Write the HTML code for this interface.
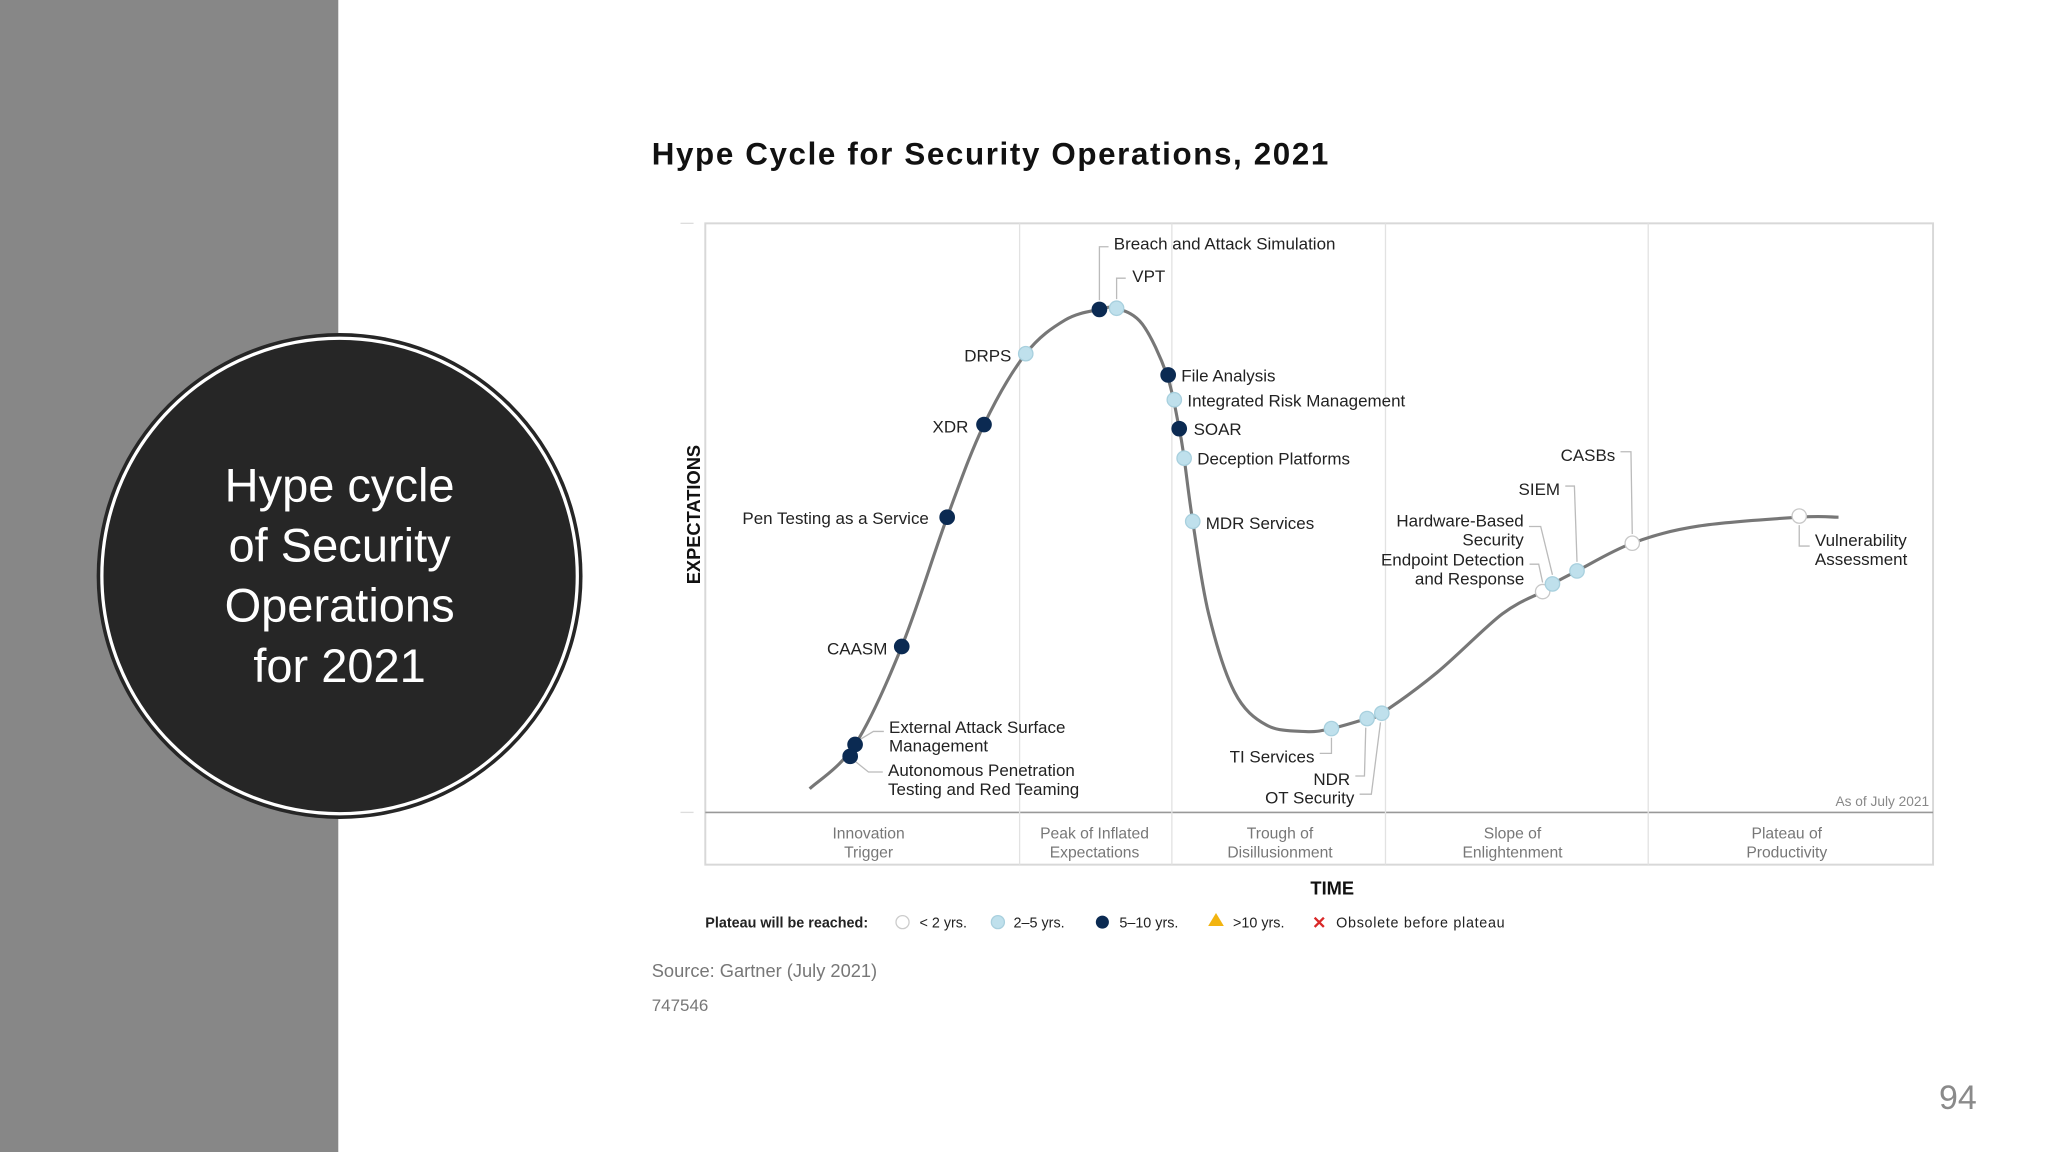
<!DOCTYPE html>
<html><head><meta charset="utf-8">
<style>
html,body{margin:0;padding:0;background:#fff;}
svg{display:block;font-family:"Liberation Sans",sans-serif;}
</style></head>
<body>
<svg id="s" width="2048" height="1152" viewBox="0 0 1568 882" preserveAspectRatio="none" xmlns="http://www.w3.org/2000/svg">
  <rect x="0" y="0" width="1568" height="882" fill="#fff"/>
  <rect x="0" y="0" width="259" height="882" fill="#878787"/>
  <g>
    <circle cx="260" cy="441" r="186" fill="#262626"/>
    <circle cx="260" cy="441" r="182" fill="none" stroke="#fff" stroke-width="2.5"/>
    <circle cx="260" cy="441" r="179.5" fill="#262626"/>
    <g fill="#fff" font-size="36" text-anchor="middle" font-family="'Liberation Sans',sans-serif">
      <text x="260" y="384">Hype cycle</text>
      <text x="260" y="430">of Security</text>
      <text x="260" y="476">Operations</text>
      <text x="260" y="522">for 2021</text>
    </g>
  </g>
  <text x="1499" y="849" font-size="26" fill="#8a8a8a" text-anchor="middle">94</text>

  <text x="499" y="126" font-size="24" font-weight="bold" fill="#111" textLength="518" lengthAdjust="spacing">Hype Cycle for Security Operations, 2021</text>

  <g id="chart">
    <rect x="540" y="171" width="940" height="491" fill="none" stroke="#d8d8d8" stroke-width="1.5"/>
    <line x1="540" y1="622" x2="1480" y2="622" stroke="#999" stroke-width="1.2"/>
    <line x1="521" y1="171" x2="531" y2="171" stroke="#ddd"/>
    <line x1="521" y1="622" x2="531" y2="622" stroke="#ddd"/>
    <text transform="translate(536,394) rotate(-90)" font-size="14" font-weight="bold" fill="#111" text-anchor="middle">EXPECTATIONS</text>
    <text x="1020" y="685" font-size="14" font-weight="bold" fill="#111" text-anchor="middle">TIME</text>
    <text x="1477" y="617" font-size="10.5" fill="#888" text-anchor="end">As of July 2021</text>
    <g id="phases"></g>
    <g id="curve"></g>
    <g id="leaders"></g>
    <g id="points"></g>
    <g id="labels"></g>
  </g>

  <g font-size="11" fill="#222">
    <text x="540" y="710" font-weight="bold">Plateau will be reached:</text>
    <circle cx="691" cy="706" r="5" fill="#fff" stroke="#ccc"/>
    <text x="704" y="710">&lt; 2 yrs.</text>
    <circle cx="764" cy="706" r="5" fill="#bfe0ec" stroke="#a9d0de"/>
    <text x="776" y="710">2–5 yrs.</text>
    <circle cx="844" cy="706" r="5" fill="#0b2a52"/>
    <text x="857" y="710">5–10 yrs.</text>
    <polygon points="931,699 937,709 925,709" fill="#f2b410"/>
    <text x="944" y="710">&gt;10 yrs.</text>
    <text x="1010" y="711" font-size="13" font-weight="bold" fill="#d92828" text-anchor="middle">✕</text>
    <text x="1023" y="710" textLength="129" lengthAdjust="spacing">Obsolete before plateau</text>
  </g>
  <text x="499" y="748" font-size="14" fill="#777">Source: Gartner (July 2021)</text>
  <text x="499" y="774" font-size="13" fill="#777">747546</text>
</svg>
<script>
// curve data: time (0-100) and expectations (0-100)
const curveT = [8.5,12.2,16.0,19.7,22.7,26.1,29.3,32.1,33.5,35.6,37.6,38.6,39.0,39.7,41.0,43.1,45.7,48.9,51.0,53.9,55.1,59.6,64.9,68.2,69.0,71.0,75.5,80.9,89.1,92.3];
const curveV = [4.0,11.5,28.1,50.0,65.7,77.7,83.4,85.2,85.4,82.7,74.1,65.0,60.0,49.3,33.6,20.4,14.8,13.7,14.2,15.9,16.8,23.7,33.6,37.4,38.7,40.9,45.6,48.5,50.0,50.0];
// technologies
const techNames = ["Breach and Attack Simulation","VPT","DRPS","XDR","Pen Testing as a Service","CAASM","External Attack Surface|Management","Autonomous Penetration|Testing and Red Teaming","File Analysis","Integrated Risk Management","SOAR","Deception Platforms","MDR Services","TI Services","NDR","OT Security","Endpoint Detection|and Response","Hardware-Based|Security","SIEM","CASBs","Vulnerability|Assessment"];
const techT = [32.1,33.5,26.1,22.7,19.7,16.0,12.2,11.8,37.7,38.2,38.6,39.0,39.7,51.0,53.9,55.1,68.2,69.0,71.0,75.5,89.1];
const techV = [85.2,85.4,77.7,65.7,50.0,28.1,11.5,9.5,74.1,69.9,65.0,60.0,49.3,14.2,15.9,16.8,37.4,38.7,40.9,45.6,50.2];
const techPlateau = ["5-10","2-5","2-5","5-10","5-10","5-10","5-10","5-10","5-10","2-5","5-10","2-5","2-5","2-5","2-5","2-5","lt2","2-5","2-5","lt2","lt2"];
const phaseNames = ["Innovation|Trigger","Peak of Inflated|Expectations","Trough of|Disillusionment","Slope of|Enlightenment","Plateau of|Productivity"];
const phaseBounds = [0,25.6,38.0,55.4,76.8,100];

const NS="http://www.w3.org/2000/svg";
const X0=540,X1=1480,YB=622,YT=170;
const xs=t=>X0+t*(X1-X0)/100;
const ys=v=>YB-v*(YB-YT)/100;
function mk(tag,attrs,parent){const e=document.createElementNS(NS,tag);for(const k in attrs)e.setAttribute(k,attrs[k]);parent.appendChild(e);return e;}

// phases
const gp=document.getElementById('phases');
for(let i=0;i<phaseNames.length;i++){
  if(i>0){const l=mk('line',{x1:xs(phaseBounds[i]),x2:xs(phaseBounds[i]),y1:171,y2:662,stroke:'#e2e2e2','stroke-width':1},gp);
    
    }
  const cx=(xs(phaseBounds[i])+xs(phaseBounds[i+1]))/2;
  const parts=phaseNames[i].split('|');
  const t=mk('text',{x:cx,y:642,'font-size':12,fill:'#777','text-anchor':'middle'},gp);
  
  
  parts.forEach((p,j)=>{const ts=mk('tspan',{x:cx,dy:j?14.5:0},t);ts.textContent=p;});
}
(function(){const lbl=gp.querySelectorAll('text');const cxs=[665,838,980,1158,1368];lbl.forEach((t,i)=>{t.querySelectorAll('tspan').forEach(s=>s.setAttribute('x',cxs[i]));});})();

// curve (catmull-rom)
const pts=curveT.map((t,i)=>[xs(t),ys(curveV[i])]);
let d='M'+pts[0][0]+','+pts[0][1];
for(let i=0;i<pts.length-1;i++){
  const p0=pts[Math.max(0,i-1)],p1=pts[i],p2=pts[i+1],p3=pts[Math.min(pts.length-1,i+2)];
  const c1=[p1[0]+(p2[0]-p0[0])/6,p1[1]+(p2[1]-p0[1])/6];
  const c2=[p2[0]-(p3[0]-p1[0])/6,p2[1]-(p3[1]-p1[1])/6];
  d+=` C${c1[0]},${c1[1]} ${c2[0]},${c2[1]} ${p2[0]},${p2[1]}`;
}
const cp=mk('path',{d:d,fill:'none',stroke:'#777','stroke-width':2.4},document.getElementById('curve'));



const offs=[
 ['start',11,-46,[[0,-7],[0,-48],[7,-48]]],
 ['start',12,-20,[[0,-7],[0,-23],[7,-23]]],
 ['end',-11,6,null],
 ['end',-12,6,null],
 ['end',-14,5,null],
 ['end',-11,6,null],
 ['start',26,-9,[[4,-4],[14,-10],[22,-10]]],
 ['start',29,15,[[4,4],[14,12],[25,12]]],
 ['start',10,5,null],
 ['start',10,5,null],
 ['start',11,5,null],
 ['start',10,5,null],
 ['start',10,6,null],
 ['end',-13,26,[[0,7],[0,19],[-9,19]]],
 ['end',-13,51,[[-1,7],[-2,44],[-9,44]]],
 ['end',-21,69,[[-1,7],[-8,62],[-17,62]]],
 ['end',-14,-20,[[0,-7],[-3,-21],[-10,-21]]],
 ['end',-22,-44,[[0,-7],[-9,-44],[-18,-44]]],
 ['end',-13,-58,[[0,-7],[-2,-65],[-9,-65]]],
 ['end',-13,-63,[[0,-7],[-1,-70],[-9,-70]]],
 ['start',12,23,[[0,7],[0,23],[8,23]]]
];
const fills={'lt2':['#fff','#c8c8c8'],'2-5':['#bfe0ec','#a8d0de'],'5-10':['#0b2a52','#0b2a52']};
const gl=document.getElementById('leaders'),gpt=document.getElementById('points'),glb=document.getElementById('labels');
techNames.forEach((n,i)=>{
  const px=xs(techT[i]),py=ys(techV[i]);const o=offs[i];
  if(o[3]){const pl=mk('polyline',{points:o[3].map(q=>(px+q[0])+','+(py+q[1])).join(' '),fill:'none',stroke:'#bbb','stroke-width':1},gl);
    
    }
  const f=fills[techPlateau[i]];
  const c=mk('circle',{cx:px,cy:py,r:5.5,fill:f[0],stroke:f[1],'stroke-width':1},gpt);
  
  
  const parts=n.split('|');
  const t=mk('text',{x:px+o[1],y:py+o[2],'font-size':13,fill:'#222','text-anchor':o[0]},glb);
  
  
  parts.forEach((p,j)=>{const ts=mk('tspan',{x:px+o[1],dy:j?14.5:0},t);ts.textContent=p;});
});
</script>
</body></html>
